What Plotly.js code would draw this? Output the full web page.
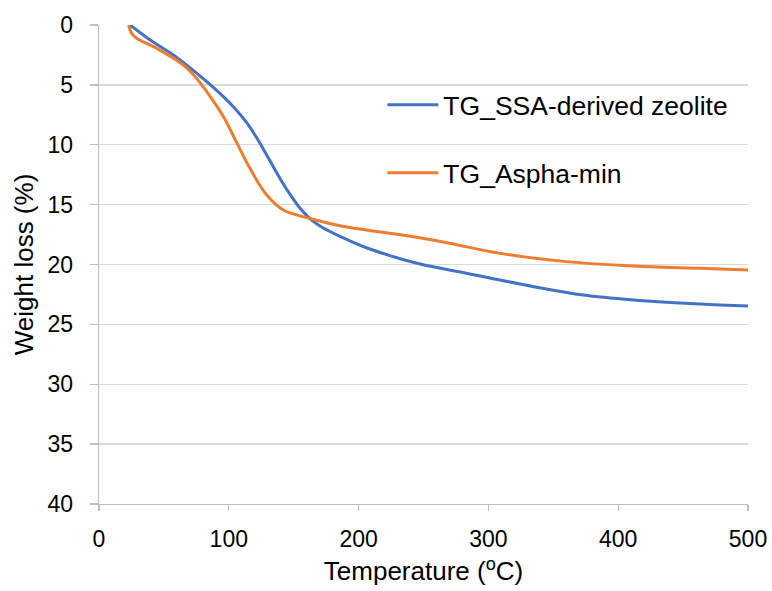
<!DOCTYPE html>
<html>
<head>
<meta charset="utf-8">
<script src="https://cdn.plot.ly/plotly-3.0.1.min.js"></script>
<style>html,body{margin:0;padding:0;background:#fff;}#chart{width:772px;height:591px;}</style>
</head>
<body>
<div id="chart"></div>
<script>
// TG_SSA-derived zeolite
const ssaTemp = [24, 40.6, 57.3, 70, 83, 95.8, 103.5, 113.8, 121.5, 129.2, 140.7, 147.2, 154.9, 163.9, 172.8, 185.7, 206, 245, 283, 335, 373, 412, 463, 500];
const ssaLoss = [0, 1.34, 2.5, 3.56, 4.73, 5.98, 6.82, 8.15, 9.42, 10.86, 13.05, 14.15, 15.3, 16.3, 16.95, 17.65, 18.6, 19.9, 20.73, 21.85, 22.55, 22.96, 23.3, 23.47];
// TG_Aspha-min
const aspTemp = [22.8, 25.2, 29, 44.5, 65, 74, 83, 95.8, 106, 116.3, 129.2, 142, 163.9, 185.7, 206, 245, 270, 309, 360, 412, 463, 500];
const aspLoss = [0, 0.7, 1.1, 1.95, 3.34, 4.3, 5.57, 7.65, 9.8, 11.97, 14.2, 15.45, 16.2, 16.76, 17.12, 17.73, 18.23, 19.07, 19.76, 20.13, 20.32, 20.46];

const seriesNames = ['TG_SSA-derived zeolite', 'TG_Aspha-min'];
const xTicks = [0, 100, 200, 300, 400, 500];
const yTicks = [0, 5, 10, 15, 20, 25, 30, 35, 40];

const font = 'Liberation Sans, Arial, sans-serif';

const traces = [
  {x: ssaTemp, y: ssaLoss, name: seriesNames[0], type: 'scatter', mode: 'lines',
   line: {color: '#4472C4', width: 3, shape: 'spline', smoothing: 1}, legend: 'legend'},
  {x: aspTemp, y: aspLoss, name: seriesNames[1], type: 'scatter', mode: 'lines',
   line: {color: '#ED7D31', width: 3, shape: 'spline', smoothing: 1}, legend: 'legend2'}
];

const layout = {
  width: 772, height: 591,
  margin: {l: 99, r: 24, t: 25, b: 87, pad: 0},
  paper_bgcolor: '#fff', plot_bgcolor: '#fff',
  font: {family: font, color: '#000'},
  xaxis: {
    range: [0, 500], tickvals: xTicks, ticktext: xTicks.map(String),
    showgrid: false, gridcolor: 'rgba(0,0,0,0)', zeroline: false,
    showline: true, linecolor: '#bfbfbf', linewidth: 1.3,
    ticks: 'outside', ticklen: 6, tickcolor: '#bfbfbf', tickwidth: 1.3,
    tickfont: {family: font, size: 23, color: '#000'},
    ticklabelstandoff: 8,
    title: {text: 'Temperature (<sup>o</sup>C)', font: {family: font, size: 26, color: '#000'}, standoff: 11},
    automargin: false
  },
  yaxis: {
    range: [40, 0], tickvals: yTicks, ticktext: yTicks.map(String),
    showgrid: true, gridcolor: '#d9d9d9', gridwidth: 1.3, zeroline: false,
    showline: true, linecolor: '#bfbfbf', linewidth: 1.3,
    ticks: 'outside', ticklen: 8, tickcolor: '#bfbfbf', tickwidth: 1.3,
    tickfont: {family: font, size: 23, color: '#000'},
    ticklabelstandoff: 12,
    title: {text: 'Weight loss (%)', font: {family: font, size: 26, color: '#000'}, standoff: 6},
    automargin: false
  },
  legend: {x: 0.4366, y: 0.833, xanchor: 'left', yanchor: 'middle', bgcolor: 'rgba(0,0,0,0)',
           itemwidth: 51, font: {family: font, size: 26.5, color: '#000'}},
  legend2: {x: 0.4366, y: 0.691, xanchor: 'left', yanchor: 'middle', bgcolor: 'rgba(0,0,0,0)',
           itemwidth: 51, font: {family: font, size: 26.5, color: '#000'}},
  showlegend: true
};

Plotly.newPlot('chart', traces, layout, {displayModeBar: false, staticPlot: true});
</script>
</body>
</html>
